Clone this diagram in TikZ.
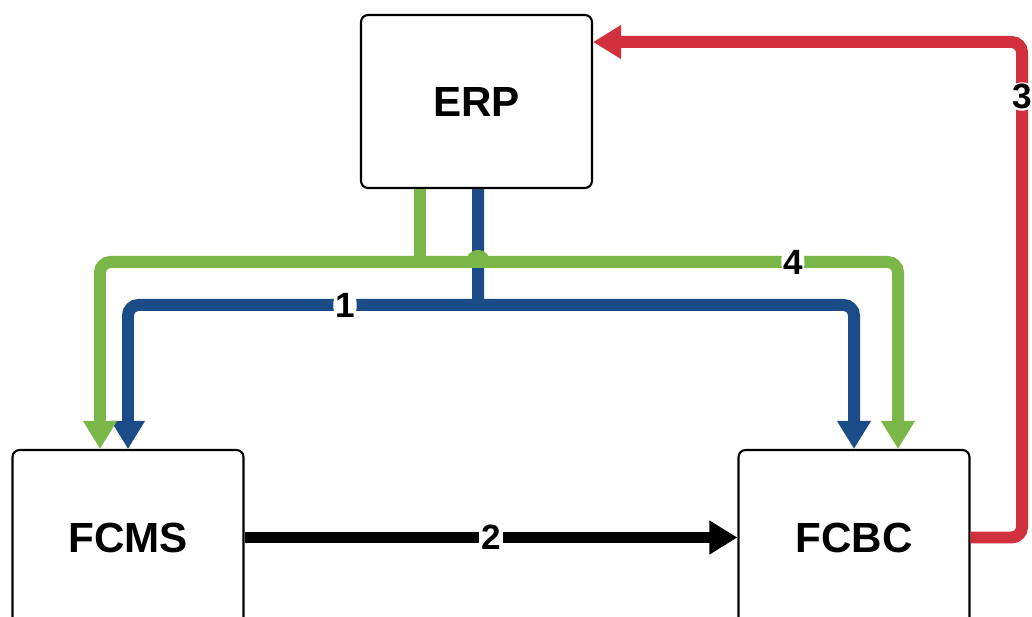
\documentclass[tikz,border=0pt]{standalone}
\usepackage{fontspec}
\setmainfont{Liberation Sans}
\usetikzlibrary{arrows.meta,calc}
\definecolor{flowgreen}{HTML}{7AB648}
\definecolor{flowblue}{HTML}{1B4C87}
\definecolor{flowred}{HTML}{D0313D}
\tikzset{
  sys/.style={draw,line width=1.2pt,rounded corners=4pt,minimum width=4.62cm,
    minimum height=3.46cm,font=\fontsize{24}{28}\selectfont\bfseries},
  flow/.style={line width=0.24cm,-{Triangle[width=0.64cm,length=0.56cm]}},
  num/.style={fill=white,text=black,inner sep=1pt,font=\fontsize{20}{24}\selectfont\bfseries}
}
\begin{document}
\begin{tikzpicture}[x=0.02cm,y=0.02cm]
  \useasboundingbox (0,0) rectangle (1032,616);
  \clip (0,0) rectangle (1032,616);
  \node[sys] (erp) at (476.5,514.5) {ERP};
  \node[sys,minimum height=3.5cm] (fcms) at (128,78.5) {FCMS};
  \node[sys,minimum height=3.5cm] (fcbc) at (854,78.5) {FCBC};
  % blue: ERP to both
  \coordinate (bsplit) at (478,311);
  \draw[flowblue,line width=0.24cm] ($(erp.south)+(1.5,0)$) -- (bsplit);
  \draw[flow,flowblue,rounded corners=6pt] (bsplit) -| node[num,pos=0.19]{1} (fcms.north);
  \draw[flow,flowblue,rounded corners=6pt] (bsplit) -| (fcbc.north);
  % green: ERP to both, hop over blue
  \coordinate (gsplit) at (420,354);
  \draw[flowgreen,line width=0.24cm] ($(erp.south)+(-56.5,0)$) -- (gsplit);
  \draw[flow,flowgreen,rounded corners=6pt] (gsplit) -| ($(fcms.north)+(-28,0)$);
  \draw[flow,flowgreen,rounded corners=6pt] (gsplit) -| node[num,pos=0.39]{4} ($(fcbc.north)+(44,0)$);
  \draw[flowgreen,line width=0.24cm] (472,354) arc[start angle=180,end angle=0,radius=6];
  % black: FCMS to FCBC
  \draw[flow,black] (fcms.east) -- node[num]{2} (fcbc.west);
  % red: FCBC back to ERP
  \coordinate (rtop) at (1022,574);
  \coordinate (rbot) at (fcbc.east -| rtop);
  \draw[flow,flowred,rounded corners=6pt] (fcbc.east) -- (rbot)
    -- node[num,pos=0.89]{3} (rtop) -- (erp.east |- rtop);
\end{tikzpicture}
\end{document}
